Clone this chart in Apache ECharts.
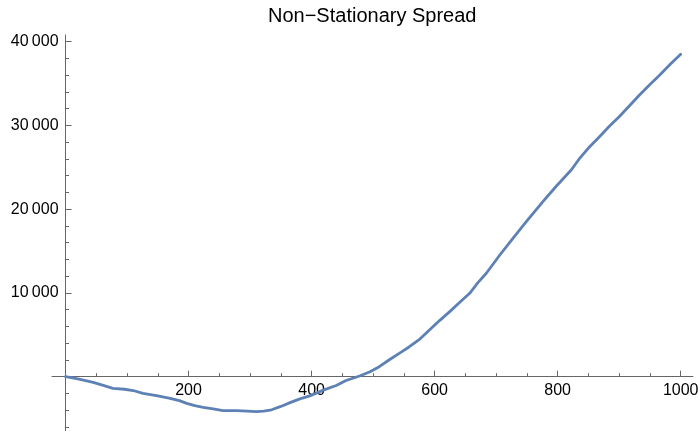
<!DOCTYPE html>
<html><head><meta charset="utf-8">
<script src="https://cdn.jsdelivr.net/npm/echarts@6/dist/echarts.min.js"></script>
<style>html,body{margin:0;padding:0;background:#fff}#c{width:700px;height:431px}</style>
</head><body><div id="c"></div>
<script>
const titleText = 'Non\u2212Stationary Spread';
const xValues = [0, 20, 45, 60, 77, 96, 110, 126, 150, 170, 185, 197, 210, 224, 240, 256, 278, 295, 310, 322, 335, 350, 365, 381, 397, 419, 440, 456, 467, 478, 495, 510, 527, 545, 559, 576, 592, 608, 625, 644, 657, 670, 684, 706, 725, 749, 776, 798, 822, 835, 850, 868, 884, 900, 916, 933, 950, 966, 983, 1000];
const yValues = [0, -250, -670, -1000, -1390, -1500, -1650, -1980, -2300, -2580, -2850, -3180, -3450, -3650, -3850, -4060, -4060, -4120, -4180, -4120, -3950, -3550, -3100, -2650, -2300, -1600, -1050, -450, -190, 80, 600, 1200, 2050, 2900, 3580, 4500, 5600, 6700, 7800, 9100, 9960, 11200, 12350, 14530, 16320, 18510, 20900, 22770, 24680, 26000, 27300, 28660, 29900, 31040, 32300, 33640, 34900, 36020, 37300, 38500];
const xMajorTicks = [200, 400, 600, 800, 1000];
const xMinorTicks = [50, 100, 150, 250, 300, 350, 450, 500, 550, 650, 700, 750, 850, 900, 950];
const yMajorTicks = [10000, 20000, 30000, 40000];
const yMinorTicks = [-6000, -4000, -2000, 2000, 4000, 6000, 8000, 12000, 14000, 16000, 18000, 22000, 24000, 26000, 28000, 32000, 34000, 36000, 38000];

const axisColor = '#666666';
const font = 'Liberation Sans, Arial, sans-serif';
const fmtY = v => String(v).replace(/\B(?=(\d{3})+(?!\d))/g, '\u2009');
const fmtX = v => String(v);
const data = xValues.map((x, i) => [x, yValues[i]]);

// plot area and ranges
const W = 700, H = 431;
const G = {left: 52, right: 7, top: 35, bottom: 0};
const xMin = -22, xMax = 1020, yMin = -6484, yMax = 40800;
const gw = W - G.left - G.right, gh = H - G.top - G.bottom;
// shift axes so they cross at the origin (like Mathematica)
const yAxisOffset = -gw * (0 - xMin) / (xMax - xMin);
const xAxisOffset = -gh * (0 - yMin) / (yMax - yMin);

function xAxisDef(ticks, len, withLine, withLabels) {
  return {type: 'value', min: xMin, max: xMax, position: 'bottom', offset: xAxisOffset,
    axisLine: {show: withLine, onZero: false, lineStyle: {color: axisColor, width: 1}},
    axisTick: {show: true, inside: true, length: len, customValues: ticks, lineStyle: {color: axisColor, width: 1}},
    axisLabel: {show: withLabels, customValues: ticks, formatter: fmtX, margin: 6, color: '#000', fontSize: 16, fontFamily: font},
    splitLine: {show: false}};
}
function yAxisDef(ticks, len, withLine, withLabels) {
  return {type: 'value', min: yMin, max: yMax, position: 'left', offset: yAxisOffset,
    axisLine: {show: withLine, onZero: false, lineStyle: {color: axisColor, width: 1}},
    axisTick: {show: true, inside: true, length: len, customValues: ticks, lineStyle: {color: axisColor, width: 1}},
    axisLabel: {show: withLabels, customValues: ticks, formatter: fmtY, margin: 7, color: '#000', fontSize: 16, fontFamily: font},
    splitLine: {show: false}};
}

const chart = echarts.init(document.getElementById('c'), null, {renderer: 'canvas'});
chart.setOption({
  animation: false,
  title: {
    text: titleText, left: 263, top: 1,
    textStyle: {fontSize: 20, fontWeight: 'normal', color: '#000', fontFamily: font}
  },
  grid: {left: G.left, right: G.right, top: G.top, bottom: G.bottom, containLabel: false, outerBoundsMode: 'none'},
  xAxis: [xAxisDef(xMajorTicks, 6, true, true), xAxisDef(xMinorTicks, 3.5, false, false)],
  yAxis: [yAxisDef(yMajorTicks, 6, true, true), yAxisDef(yMinorTicks, 3.5, false, false)],
  series: [{
    type: 'line', data: data, xAxisIndex: 0, yAxisIndex: 0,
    showSymbol: false, symbol: 'none', smooth: false, clip: false,
    lineStyle: {color: '#5E81B5', width: 2.8, join: 'round', cap: 'round'}
  }]
});
</script></body></html>
